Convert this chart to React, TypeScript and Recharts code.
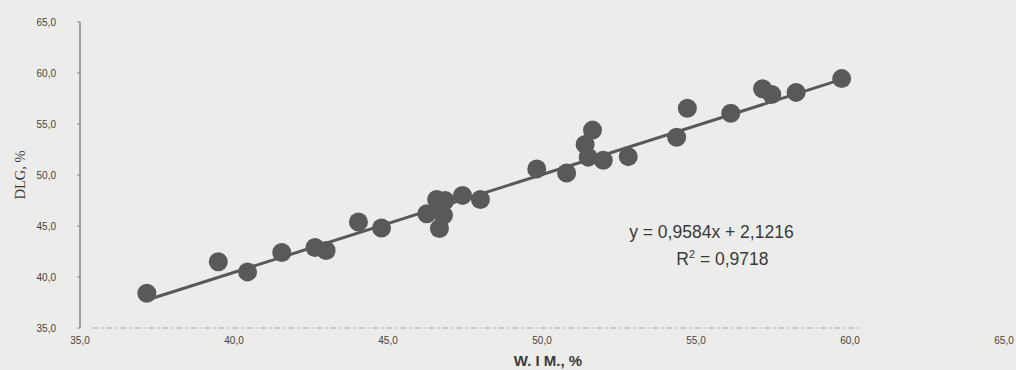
import React from "react";
import { ScatterChart, Scatter, XAxis, YAxis, ReferenceLine, ReferenceDot } from "recharts";

const wimValues = [37.17, 39.49, 40.44, 41.55, 42.63, 42.99, 44.04, 44.79, 46.58, 46.85, 46.26, 46.8, 46.67, 47.42, 48.0, 49.83, 50.8, 51.64, 51.4, 51.5, 51.99, 52.8, 54.37, 54.72, 56.13, 57.16, 57.46, 58.25, 59.73];
const dlgValues = [38.4, 41.5, 40.5, 42.4, 42.9, 42.6, 45.4, 44.8, 47.6, 47.5, 46.2, 46.05, 44.75, 48.0, 47.6, 50.6, 50.2, 54.4, 53.0, 51.75, 51.45, 51.8, 53.7, 56.55, 56.05, 58.45, 57.9, 58.1, 59.45];
const trendStart = { x: 37.2, y: 37.77 };
const trendEnd = { x: 59.73, y: 59.37 };
const baselineStart = { x: 35.4, y: 35 };
const baselineEnd = { x: 60.4, y: 35 };
const axisTicks = [35, 40, 45, 50, 55, 60, 65];
const xTitle = "W. I M., %";
const yTitle = "DLG, %";
const equationText = "y = 0,9584x + 2,1216";
const r2Value = " = 0,9718";
const equationAnchor = { x: 55.5, y: 44.4 };

const points = wimValues.map((x, i) => ({ x, y: dlgValues[i] }));
const fmt = (v: number) => v.toFixed(1).replace(".", ",");

const MARK = "#595959";
const TEXT = "#3a3a3a";

export default function App() {
  return (
    <div style={{ position: "absolute", left: 0, top: 0, width: 1016, height: 370, background: "#ececea" }}>
      <ScatterChart width={1016} height={370} margin={{ top: 22, right: 12, bottom: 12, left: 0 }}>
        <XAxis
          type="number"
          dataKey="x"
          domain={[35, 65]}
          ticks={axisTicks}
          tickFormatter={fmt}
          height={30}
          tickSize={0}
          tickMargin={9}
          tick={{ fontSize: 10, fill: "#444", fontFamily: "Liberation Sans, Arial, sans-serif" }}
          axisLine={false}
          allowDataOverflow
          label={{
            content: (props: any) => {
              const vb = props.viewBox || {};
              return (
                <text
                  x={vb.x + vb.width / 2 + 6}
                  y={vb.y + vb.height + 8}
                  textAnchor="middle"
                  fontFamily="Liberation Sans, Arial, sans-serif"
                  fontWeight="bold"
                  fontSize={15}
                  fill={TEXT}
                >
                  {xTitle}
                </text>
              );
            },
          }}
        />
        <YAxis
          type="number"
          dataKey="y"
          domain={[35, 65]}
          ticks={axisTicks}
          tickFormatter={fmt}
          width={80}
          tickSize={3}
          tickMargin={21}
          tick={{ fontSize: 10, fill: "#444", fontFamily: "Liberation Sans, Arial, sans-serif" }}
          axisLine={{ stroke: "#555", strokeWidth: 1 }}
          tickLine={{ stroke: "#888" }}
          allowDataOverflow
          label={{
            content: (props: any) => {
              const vb = props.viewBox || {};
              const cx = 20;
              const cy = vb.y + vb.height / 2;
              return (
                <text
                  x={cx}
                  y={cy}
                  transform={`rotate(-90, ${cx}, ${cy})`}
                  textAnchor="middle"
                  dominantBaseline="central"
                  fontFamily="Liberation Serif, Times New Roman, serif"
                  fontSize={14.5}
                  fill={TEXT}
                >
                  {yTitle}
                </text>
              );
            },
          }}
        />
        <ReferenceLine segment={[baselineStart, baselineEnd]} stroke="#a8a8a8" strokeWidth={1} strokeDasharray="6 3 2 3" ifOverflow="visible" />
        <Scatter data={points} fill={MARK} isAnimationActive={false} shape={(p: any) => <circle cx={p.cx} cy={p.cy} r={9.5} fill={MARK} />} />
        <ReferenceLine segment={[trendStart, trendEnd]} stroke={MARK} strokeWidth={3} ifOverflow="visible" />
        <ReferenceDot
          x={equationAnchor.x}
          y={equationAnchor.y}
          r={0}
          fill="none"
          stroke="none"
          ifOverflow="visible"
          label={{
            content: (props: any) => {
              const vb = props.viewBox || {};
              const cx = vb.x + (vb.width || 0) / 2;
              const cy = vb.y + (vb.height || 0) / 2;
              return (
                <g fontFamily="Liberation Sans, Arial, sans-serif" fill={TEXT}>
                  <text x={cx} y={cy + 6} textAnchor="middle" fontSize={17.5}>
                    {equationText}
                  </text>
                  <text x={cx + 11} y={cy + 33} textAnchor="middle" fontSize={17.5}>
                    R<tspan dy={-7} fontSize={11}>2</tspan>
                    <tspan dy={7}>{r2Value}</tspan>
                  </text>
                </g>
              );
            },
          }}
        />
      </ScatterChart>
    </div>
  );
}
